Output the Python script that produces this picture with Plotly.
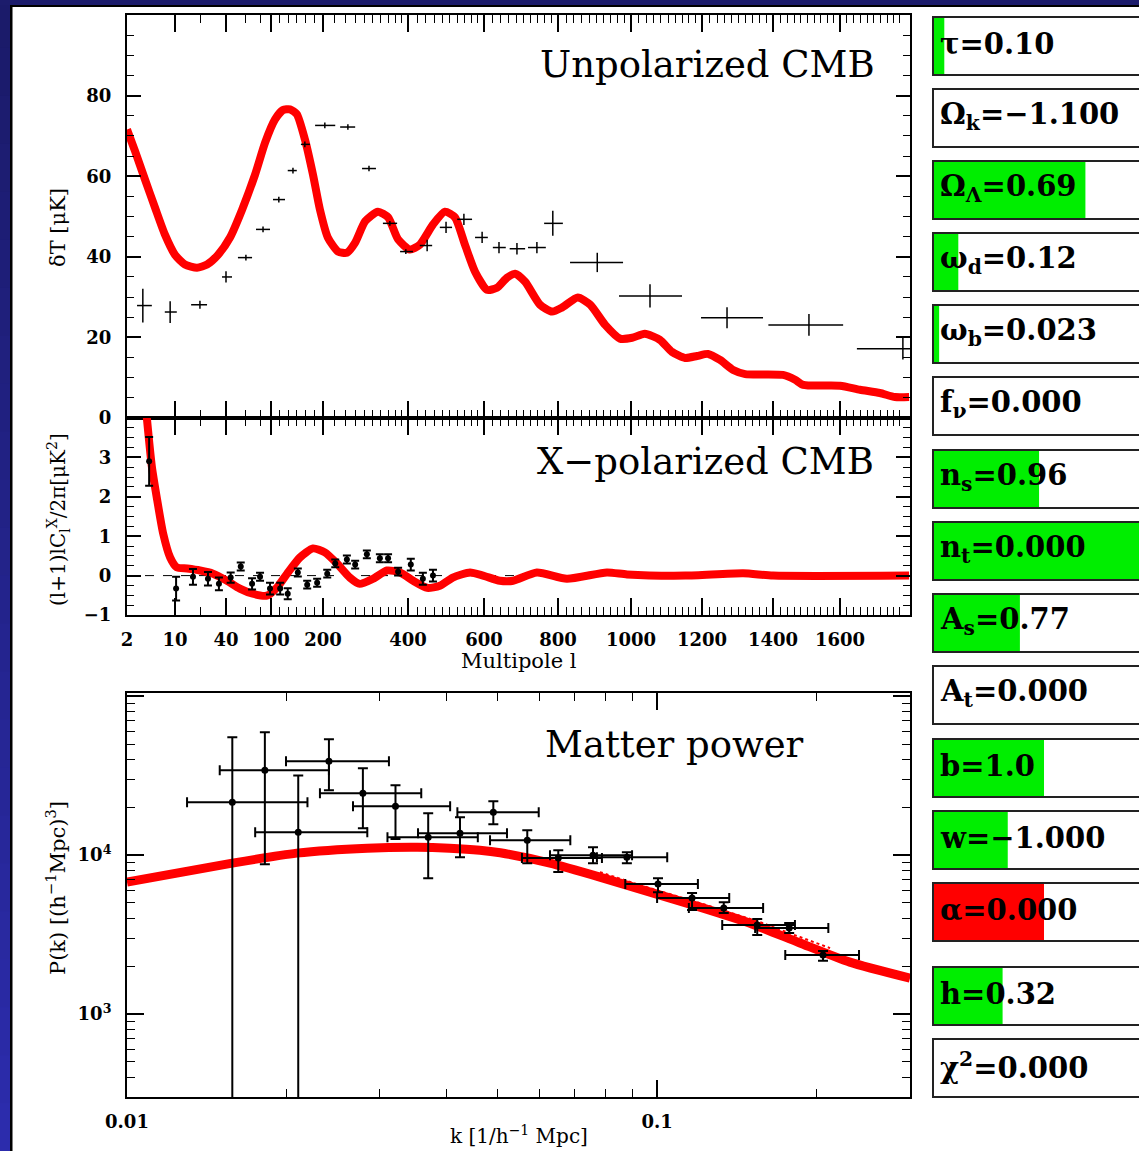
import numpy as np
import plotly.graph_objects as go

W, H = 1139, 1151

# ---------------- data ----------------
# Unpolarized CMB theory curve (multipole l, dT in microK)
TT_L = [2, 2.62, 3.65, 5.12, 7.14, 10, 13.1, 18.2, 23.9, 32.2, 43.4, 55.5, 72.3, 88.8, 105.5,
        117, 129, 141, 157, 175, 192, 208, 226, 243, 260, 282, 313, 340, 369, 404,
        426, 457, 487, 514, 542, 572, 607, 631, 656, 677, 704, 746, 782, 810, 850,
        883, 924, 967, 1003, 1036, 1077, 1111, 1149, 1185, 1216, 1248, 1284, 1318, 1428, 1463,
        1487, 1600, 1658, 1718, 1765, 1810]
TT_DT = [71.6, 66.2, 59.2, 52.2, 45.5, 40.5, 38.1, 37.3, 38.1, 40.5, 44.8, 51.7, 60.4, 68.4, 74.1,
         76.4, 76.6, 75.4, 69.2, 60.4, 51.7, 44.8, 41.3, 41.0, 43.5, 48.8, 51.2, 49.8, 44.3, 41.8,
         43.0, 48.0, 51.2, 49.8, 43.0, 36.3, 31.8, 32.3, 34.8, 35.8, 33.8, 28.1, 26.4, 27.4, 29.9,
         28.1, 23.1, 19.7, 19.9, 20.9, 19.4, 16.4, 14.9, 15.4, 15.9, 14.4, 11.9, 10.9, 10.7, 9.5,
         8.2, 8.0, 7.0, 6.2, 5.2, 5.2]

# Unpolarized CMB measurements
TT_OBS_L = [3.4, 8.5, 19.7, 40, 60, 85, 111, 134, 157, 203, 245, 291, 345, 393, 443,
            490, 539, 594, 636, 682, 737, 784, 902, 1050, 1267, 1504, 1790]
TT_OBS_LLO = [2.8, 7.1, 15.5, 35.9, 51, 73.7, 102.7, 125, 149, 180, 230, 275, 326, 375, 426,
              474, 520, 572, 621, 663, 712, 758, 830, 964, 1197, 1386, 1649]
TT_OBS_LHI = [4.6, 10.5, 23.9, 45.2, 68, 98, 120.5, 141, 168, 221, 260, 308, 366, 410.7, 455,
              506, 563, 609, 653, 704, 763, 812, 976, 1140, 1370, 1609, 1950]
TT_OBS_DT = [27.9, 26.3, 28.1, 35.0, 39.8, 46.8, 54.2, 61.4, 67.9, 72.6, 72.2, 61.9, 48.3, 41.3, 42.8,
             47.3, 49.3, 44.8, 42.3, 42.0, 42.3, 48.3, 38.6, 30.3, 24.9, 23.1, 17.2]
TT_OBS_ERR = [4.2, 2.7, 1.0, 1.4, 0.7, 0.7, 0.7, 0.7, 0.7, 0.7, 0.7, 0.7, 0.6, 0.6, 1.4,
              1.4, 1.4, 1.4, 1.4, 1.4, 1.4, 3.1, 2.4, 2.9, 2.6, 2.7, 2.7]

# X-polarized CMB theory curve
TE_L = [3.7, 4.6, 5.5, 6.7, 8.5, 10.5, 13.9, 19.7, 28.1, 40.8, 53, 69, 92, 108, 124,
        147, 175, 203, 224, 249, 270, 301, 337, 375, 411, 443, 474, 508, 557, 597,
        638, 672, 737, 822, 929, 988, 1150, 1312, 1400, 1810]
TE_V = [4.4, 2.77, 1.92, 1.08, 0.46, 0.21, 0.18, 0.13, 0.05, -0.13, -0.33, -0.46, -0.51, -0.31, 0.05,
        0.46, 0.69, 0.59, 0.31, -0.05, -0.21, -0.08, 0.13, 0.08, -0.13, -0.31, -0.26, -0.05, 0.08, 0.0,
        -0.13, -0.13, 0.08, -0.08, 0.08, 0.03, 0.0, 0.06, 0.0, 0.0]

# X-polarized measurements
TE_OBS_L = [4.2, 10.3, 16.3, 24.5, 33, 44, 54, 68, 80, 98, 113, 125, 143, 162, 185,
            207, 221, 243, 260, 286, 318, 340, 369, 406, 433, 457]
TE_OBS_V = [2.9, -0.33, -0.03, -0.08, -0.21, -0.05, 0.23, -0.21, -0.03, -0.33, -0.33, -0.46, 0.08, -0.23, -0.18,
            0.05, 0.31, 0.41, 0.28, 0.54, 0.44, 0.44, 0.10, 0.28, -0.08, 0.0]
TE_OBS_ERR = [0.62, 0.3, 0.2, 0.17, 0.16, 0.13, 0.1, 0.14, 0.1, 0.15, 0.15, 0.14, 0.1, 0.1, 0.1,
              0.1, 0.1, 0.1, 0.1, 0.1, 0.1, 0.1, 0.1, 0.15, 0.15, 0.15]

# Matter power spectrum theory
PK_K = [0.01, 0.0158, 0.0209, 0.0284, 0.0353, 0.0406, 0.0463, 0.0506, 0.0628, 0.078,
        0.097, 0.1205, 0.1497, 0.186, 0.231, 0.30]
PK_P = [6760, 8910, 10300, 11070, 11220, 11070, 10750, 10350, 8910, 7280,
        5850, 4710, 3730, 2800, 2120, 1680]
PK_NL_K = [0.078, 0.0929, 0.1205, 0.1563, 0.186, 0.212]
PK_NL_P = [7820, 6470, 4990, 3790, 3050, 2600]

# Matter power measurements
PK_OBS_K = [0.0158, 0.0182, 0.02104, 0.02404, 0.02786, 0.0321, 0.0370, 0.04248, 0.0491, 0.0569,
            0.0651, 0.0757, 0.0877, 0.1004, 0.1164, 0.1336, 0.1545, 0.1775, 0.2056]
PK_OBS_KLO = [0.01298, 0.01496, 0.01745, 0.01995, 0.02312, 0.02669, 0.0310, 0.0354, 0.0420, 0.0484,
              0.0556, 0.0628, 0.0770, 0.0871, 0.100, 0.1148, 0.1327, 0.1531, 0.1745]
PK_OBS_KHI = [0.0219, 0.02404, 0.0284, 0.0312, 0.0359, 0.0407, 0.0459, 0.0521, 0.0598, 0.0686,
              0.0787, 0.0897, 0.1045, 0.1194, 0.1368, 0.1585, 0.182, 0.2104, 0.2404]
PK_OBS_P = [21550, 34250, 13960, 39000, 24540, 20320, 12980, 13750, 18630, 12420,
            9580, 10000, 9710, 6580, 5370, 4640, 3630, 3480, 2350]
PK_OBS_PLO = [1, 8780, 1, 25650, 14790, 12620, 7160, 9710, 15660, 8910,
              7820, 8910, 8910, 5850, 4510, 4320, 3140, 3230, 2160]
PK_OBS_PHI = [55200, 59400, 31800, 53700, 35240, 27540, 18360, 17340, 21880, 14360,
              10750, 11230, 10440, 7160, 5770, 5060, 3960, 3740, 2490]

# Parameter sliders
SLIDER_LABELS = ["τ=0.10", "Ω<sub>k</sub>=−1.100", "Ω<sub>Λ</sub>=0.69", "ω<sub>d</sub>=0.12",
                 "ω<sub>b</sub>=0.023", "f<sub>ν</sub>=0.000", "n<sub>s</sub>=0.96", "n<sub>t</sub>=0.000",
                 "A<sub>s</sub>=0.77", "A<sub>t</sub>=0.000", "b=1.0", "w=−1.000", "α=0.000",
                 "h=0.32", "χ<sup>2</sup>=0.000"]
SLIDER_FILL = [0.05, 0, 0.735, 0.118, 0.025, 0, 0.51, 1.0, 0.417, 0, 0.534, 0.358, 0.534, 0.333, 0]
SLIDER_COLORS = ["#00ee00"] * 12 + ["#ff0000", "#00ee00", "#00ee00"]

# axis ticks
L_TICKS = [2, 10, 40, 100, 200, 400, 600, 800, 1000, 1200, 1400, 1600]
L_MINOR = [20, 60, 80, 112, 126, 141, 159, 178] + [v for v in range(220, 1800, 20) if v % 200 != 0]

# custom multipole scale (log-like at low l, near-linear at high l)
SCALE_L = [2, 10, 40, 100, 200, 400, 600, 800, 1000, 1200, 1400, 1600, 1800, 2000]
SCALE_U = [0, 48, 99, 144, 196, 281, 357, 431, 504, 575, 646, 713, 779, 838]


def lscale(l):
    return np.interp(np.log(np.asarray(l, float)), np.log(SCALE_L), SCALE_U)


# ---------------- layout helpers ----------------
def fx(px):
    return px / W


def fy(py):
    return 1 - py / H


RED = "#ff0000"
SERIF = "DejaVu Serif"
TICKFONT = dict(family=SERIF, size=18, color="black", weight="bold")

fig = go.Figure()

# top panel
fig.add_trace(go.Scatter(x=lscale(TT_L), y=TT_DT, mode="lines",
                         line=dict(color=RED, width=8, shape="spline", smoothing=0.6),
                         xaxis="x", yaxis="y", hoverinfo="skip"))
u_c = lscale(TT_OBS_L)
fig.add_trace(go.Scatter(x=u_c, y=TT_OBS_DT, mode="markers",
                         marker=dict(size=1, color="rgba(0,0,0,0)"),
                         error_x=dict(type="data", symmetric=False,
                                      array=lscale(TT_OBS_LHI) - u_c,
                                      arrayminus=u_c - lscale(TT_OBS_LLO),
                                      color="black", thickness=1.5, width=0),
                         error_y=dict(type="data", array=TT_OBS_ERR, color="black",
                                      thickness=1.5, width=0),
                         xaxis="x", yaxis="y"))

# middle panel
fig.add_trace(go.Scatter(x=[0, 783], y=[0, 0], mode="lines",
                         line=dict(color="black", width=1, dash="dash"),
                         xaxis="x2", yaxis="y2"))
fig.add_trace(go.Scatter(x=lscale(TE_L), y=TE_V, mode="lines",
                         line=dict(color=RED, width=8, shape="spline", smoothing=0.6),
                         xaxis="x2", yaxis="y2"))
fig.add_trace(go.Scatter(x=lscale(TE_OBS_L), y=TE_OBS_V, mode="markers",
                         marker=dict(size=6, color="black"),
                         error_y=dict(type="data", array=TE_OBS_ERR, color="black",
                                      thickness=2, width=4),
                         xaxis="x2", yaxis="y2"))

# bottom panel
fig.add_trace(go.Scatter(x=PK_K, y=PK_P, mode="lines",
                         line=dict(color=RED, width=9, shape="spline", smoothing=0.6),
                         xaxis="x3", yaxis="y3"))
fig.add_trace(go.Scatter(x=PK_NL_K, y=PK_NL_P, mode="lines",
                         line=dict(color=RED, width=2, dash="dot"),
                         xaxis="x3", yaxis="y3"))
k = np.array(PK_OBS_K)
p = np.array(PK_OBS_P)
fig.add_trace(go.Scatter(x=k, y=p, mode="markers",
                         marker=dict(size=7, color="black"),
                         error_x=dict(type="data", symmetric=False,
                                      array=np.array(PK_OBS_KHI) - k,
                                      arrayminus=k - np.array(PK_OBS_KLO),
                                      color="black", thickness=2, width=5),
                         error_y=dict(type="data", symmetric=False,
                                      array=np.array(PK_OBS_PHI) - p,
                                      arrayminus=p - np.array(PK_OBS_PLO),
                                      color="black", thickness=2, width=5),
                         xaxis="x3", yaxis="y3"))

XDOM = [fx(127), fx(910)]
common = dict(showline=True, linecolor="black", linewidth=2, mirror="allticks",
              ticks="inside", tickcolor="black", tickwidth=1.5, showgrid=False,
              zeroline=False, tickfont=TICKFONT, automargin=False, fixedrange=True)

layout = dict(
    width=W, height=H, margin=dict(l=0, r=0, t=0, b=0),
    paper_bgcolor="white", plot_bgcolor="white", showlegend=False,
    xaxis=dict(domain=XDOM, range=[0, 783], anchor="y",
               tickmode="array", tickvals=lscale(L_TICKS), showticklabels=False, ticklen=17,
               minor=dict(tickmode="array", tickvals=lscale(L_MINOR), ticklen=8,
                          ticks="inside", tickcolor="black", tickwidth=1.2),
               **common),
    yaxis=dict(domain=[fy(418), fy(15)], range=[0, 100], anchor="x",
               tickmode="array", tickvals=[0, 20, 40, 60, 80, 100],
               ticktext=["0", "20", "40", "60", "80", " "], ticklen=14, ticklabelstandoff=10,
               minor=dict(dtick=5, ticklen=7, ticks="inside", tickcolor="black", tickwidth=1.2),
               **common),
    xaxis2=dict(domain=XDOM, range=[0, 783], anchor="y2",
                tickmode="array", tickvals=lscale(L_TICKS), ticktext=[str(v) for v in L_TICKS],
                ticklen=17, ticklabelstandoff=7,
                minor=dict(tickmode="array", tickvals=lscale(L_MINOR), ticklen=8,
                           ticks="inside", tickcolor="black", tickwidth=1.2),
                **common),
    yaxis2=dict(domain=[fy(615), fy(418)], range=[-1, 4], anchor="x2",
                tickmode="array", tickvals=[-1, 0, 1, 2, 3, 4],
                ticktext=["−1", "0", "1", "2", "3", " "], ticklen=14, ticklabelstandoff=10,
                minor=dict(dtick=0.25, ticklen=7, ticks="inside", tickcolor="black", tickwidth=1.2),
                **common),
    xaxis3=dict(domain=XDOM, type="log", range=[-2, np.log10(0.3)], anchor="y3",
                tickmode="array", tickvals=[0.01, 0.1], ticktext=["0.01", "0.1"],
                ticklen=17, ticklabelstandoff=7,
                minor=dict(tickmode="array",
                           tickvals=[0.02, 0.03, 0.04, 0.05, 0.06, 0.07, 0.08, 0.09, 0.2, 0.3],
                           ticklen=8, ticks="inside", tickcolor="black", tickwidth=1.2),
                **common),
    yaxis3=dict(domain=[fy(1097), fy(693)], type="log",
                range=[np.log10(300), np.log10(1.05e5)], anchor="x3",
                tickmode="array", tickvals=[1e3, 1e4, 1e5],
                ticktext=["10<sup>3</sup>", "10<sup>4</sup>", " "], ticklen=17, ticklabelstandoff=10,
                minor=dict(tickmode="array",
                           tickvals=[m * 10 ** e for e in (2, 3, 4) for m in range(2, 10)
                                     if 300 <= m * 10 ** e <= 1.05e5],
                           ticklen=8, ticks="inside", tickcolor="black", tickwidth=1.2),
                **common),
)

shapes = []


def rect(x0, y0, x1, y1, **kw):
    shapes.append(dict(type="rect", xref="paper", yref="paper",
                       x0=fx(x0), x1=fx(x1), y0=fy(y1), y1=fy(y0), **kw))


# blue frame (vertical gradient on left strip)
NSEG = 24
c0, c1 = np.array([27, 27, 106]), np.array([44, 44, 172])
for i in range(NSEG):
    c = (c0 + (c1 - c0) * i / (NSEG - 1)).astype(int)
    rect(0, i * H / NSEG, 10.5, (i + 1) * H / NSEG + 1,
         fillcolor=f"rgb({c[0]},{c[1]},{c[2]})", line=dict(width=0))
rect(0, 0, W, 5, fillcolor="rgb(28,28,108)", line=dict(width=0))
rect(10, 5, 12.5, H, fillcolor="black", line=dict(width=0))
rect(10, 5, W, 7, fillcolor="black", line=dict(width=0))

# slider boxes
BOX_TOPS = [17, 89, 161, 233, 305, 377, 450, 522, 594, 666, 739, 811, 883, 967, 1039]
BOX_H = 58
annotations = []
for top, lab, fill, col in zip(BOX_TOPS, SLIDER_LABELS, SLIDER_FILL, SLIDER_COLORS):
    rect(933, top, 1170, top + BOX_H, fillcolor="white", line=dict(width=0))
    if fill > 0:
        rect(934, top, 934 + fill * 206, top + BOX_H, fillcolor=col, line=dict(width=0))
    rect(933, top, 1170, top + BOX_H, fillcolor="rgba(0,0,0,0)",
         line=dict(color="#222222", width=2))
    annotations.append(dict(xref="paper", yref="paper", x=fx(938), y=fy(top + BOX_H / 2 - 2),
                            xanchor="left", yanchor="middle", showarrow=False, text=lab,
                            font=dict(family=SERIF, size=29, color="black", weight="bold")))


def label(text, x, y, size, angle=0, xanchor="center", weight="normal"):
    annotations.append(dict(xref="paper", yref="paper", x=fx(x), y=fy(y), text=text,
                            xanchor=xanchor, yanchor="middle", showarrow=False, textangle=angle,
                            font=dict(family=SERIF, size=size, color="black", weight=weight)))


label("Unpolarized CMB", 877, 65, 37, xanchor="right")
label("X−polarized CMB", 876, 462, 37, xanchor="right")
label("Matter power", 806, 744, 37, xanchor="right")
label("δT [μK]", 58, 228, 21, angle=-90)
label("(l+1)lC<sub>l</sub><sup>X</sup>/2π[μK<sup>2</sup>]", 58, 520, 20, angle=-90)
label("Multipole l", 519, 661, 21)
label("P(k) [(h<sup>−1</sup>Mpc)<sup>3</sup>]", 56, 888, 21, angle=-90)
label("k [1/h<sup>−1</sup> Mpc]", 519, 1135, 20)

layout["shapes"] = shapes
layout["annotations"] = annotations
fig.update_layout(**layout)

fig.write_html("out.html", config={"displayModeBar": False},
               post_script="document.body.style.margin='0';document.body.style.overflow='hidden';")
